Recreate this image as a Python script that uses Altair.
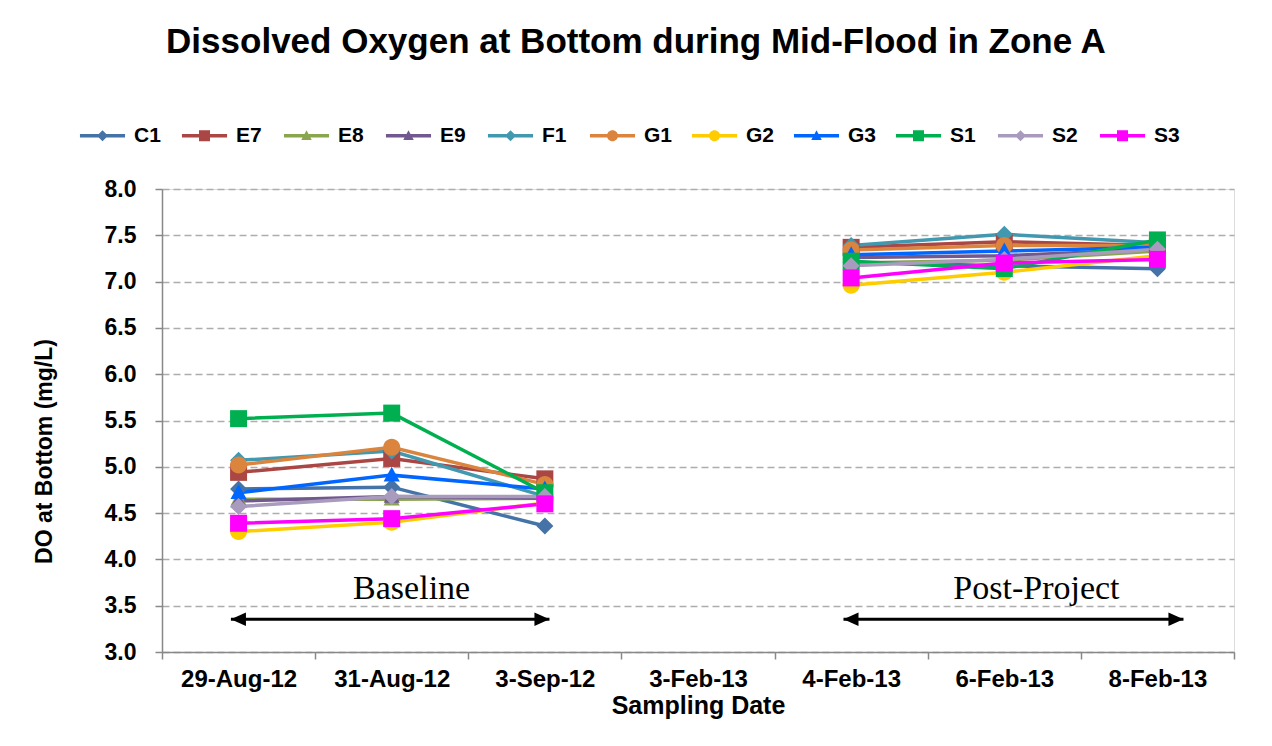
import altair as alt
import pandas as pd

# ---------------- data ----------------
dates = ["29-Aug-12", "31-Aug-12", "3-Sep-12", "3-Feb-13", "4-Feb-13", "6-Feb-13", "8-Feb-13"]
periods = ["Baseline", "Baseline", "Baseline", "Gap", "Post", "Post", "Post"]
series = ["C1", "E7", "E8", "E9", "F1", "G1", "G2", "G3", "S1", "S2", "S3"]
colors = ["#4572A7", "#AA4643", "#89A54E", "#71588F", "#4198AF", "#DB843D",
          "#FFCC00", "#0066FF", "#00B050", "#A99BBD", "#FF00FF"]
markers = ["diamond", "square", "triangle", "triangle", "diamond", "circle",
           "circle", "triangle", "square", "diamond", "square"]

C1 = [4.76, 4.78, 4.36, None, 7.21, 7.17, 7.14]
E7 = [4.94, 5.09, 4.87, None, 7.37, 7.43, 7.39]
E8 = [4.65, 4.65, 4.66, None, 7.20, 7.23, 7.33]
E9 = [4.63, 4.68, 4.66, None, 7.26, 7.28, 7.35]
F1 = [5.07, 5.17, 4.68, None, 7.39, 7.51, 7.42]
G1 = [5.02, 5.21, 4.81, None, 7.34, 7.39, 7.39]
G2 = [4.30, 4.40, 4.61, None, 6.96, 7.10, 7.28]
G3 = [4.72, 4.91, 4.76, None, 7.29, 7.33, 7.37]
S1 = [5.52, 5.58, 4.72, None, 7.22, 7.14, 7.45]
S2 = [4.57, 4.68, 4.68, None, 7.17, 7.24, 7.35]
S3 = [4.39, 4.44, 4.60, None, 7.04, 7.20, 7.24]
values = [C1, E7, E8, E9, F1, G1, G2, G3, S1, S2, S3]

y_ticks = [3.0, 3.5, 4.0, 4.5, 5.0, 5.5, 6.0, 6.5, 7.0, 7.5, 8.0]

# annotations (x in category-index units, y in mg/L)
ann_labels = ["Baseline", "Post-Project"]
ann_text_x = [1.13, 5.21]
ann_text_y = [3.577, 3.577]
ann_start = [-0.05, 3.95]
ann_end = [2.03, 6.17]
ann_y = [3.353, 3.353]

# ---------------- tables ----------------
rows = []
for s, vals in zip(series, values):
    for i, (d, p, v) in enumerate(zip(dates, periods, vals)):
        if v is not None:
            rows.append({"date": d, "idx": i, "series": s, "period": p, "value": v})
df = pd.DataFrame(rows)
leg_df = pd.DataFrame({"series": series})
ann_df = pd.DataFrame({"label": ann_labels, "tx": ann_text_x, "ty": ann_text_y,
                       "start": ann_start, "end": ann_end, "ay": ann_y})

# ---------------- shapes ----------------
MARK = {
    "diamond": "M0,-1L1,0L0,1L-1,0Z",
    "square": "M-1,-1H1V1H-1Z",
    "triangle": "M0,-1L0.95,0.75L-0.95,0.75Z",
    "circle": "M1,0A1,1 0 1,1 -1,0A1,1 0 1,1 1,0Z",
}
LINE = "M-4.1,-0.33H4.1V0.33H-4.1Z"
marker_paths = [MARK[m] for m in markers]
legend_paths = [LINE + MARK[m] for m in markers]
LEFT_HEAD = "M0,0L2,-0.9L2,0.9Z"
RIGHT_HEAD = "M0,0L-2,-0.9L-2,0.9Z"

FONT = "Liberation Sans"
GREY = "#888888"

yscale = alt.Scale(domain=[3, 8], nice=False, zero=False)
xscale = alt.Scale(type="band", domain=dates, paddingInner=0, paddingOuter=0)
cscale = alt.Scale(domain=series, range=colors)
ann_x = alt.Scale(domain=[-0.5, 6.5], nice=False, zero=False)

x_axis = alt.Axis(title="Sampling Date", labelAngle=0, tickBand="extent", tickSize=7,
                  labelFont=FONT, labelFontSize=24, labelFontWeight="bold", labelColor="black",
                  labelPadding=8, titleFont=FONT, titleFontSize=25, titleFontWeight="bold",
                  titleColor="black", titlePadding=2, domainColor=GREY, domainWidth=1.5,
                  tickColor=GREY, tickWidth=1.5, grid=False)
y_axis = alt.Axis(title="DO at Bottom (mg/L)", values=y_ticks, format=".1f", tickSize=7,
                  labelFont=FONT, labelFontSize=23, labelFontWeight="bold", labelColor="black",
                  labelPadding=19, titleFont=FONT, titleFontSize=23, titleFontWeight="bold",
                  titleColor="black", titlePadding=48, titleY=262,
                  domainColor=GREY, domainWidth=1.5,
                  tickColor=GREY, tickWidth=1.5, grid=True, gridColor="#ADADAD",
                  gridDash=[7, 4], gridWidth=1.5)

legend = alt.Legend(title=None, orient="none", legendX=-70, legendY=-64,
                    direction="horizontal", columns=11, gridAlign="all",
                    symbolSize=121, symbolOpacity=1, symbolStrokeWidth=0,
                    labelOffset=21, columnPadding=18, padding=0,
                    labelFont=FONT, labelFontSize=21, labelFontWeight="bold",
                    labelColor="black")

Y = lambda f: alt.Y(f, scale=yscale, axis=y_axis)

lines = alt.Chart(df).mark_line(strokeWidth=3.5).encode(
    x=alt.X("date:N", sort=dates, scale=xscale, axis=x_axis),
    y=Y("value:Q"),
    color=alt.Color("series:N", scale=cscale, legend=None),
    detail="period:N",
    order=alt.Order("idx:Q"),
)

points = alt.Chart(df).mark_point(filled=True, opacity=1, size=289, strokeWidth=0).encode(
    x=alt.X("date:N", sort=dates, scale=xscale, axis=None),
    y=Y("value:Q"),
    color=alt.Color("series:N", scale=cscale, legend=None),
    shape=alt.Shape("series:N", scale=alt.Scale(domain=series, range=marker_paths), legend=None),
)

leg = alt.Chart(leg_df).mark_point(filled=True, opacity=0).encode(
    color=alt.Color("series:N", scale=cscale, legend=legend),
    shape=alt.Shape("series:N", scale=alt.Scale(domain=series, range=legend_paths), legend=legend),
)

arrow = alt.Chart(ann_df).mark_rule(color="black", strokeWidth=3).encode(
    x=alt.X("start:Q", scale=ann_x, axis=None),
    x2="end:Q",
    y=Y("ay:Q"),
)
head_l = alt.Chart(ann_df).mark_point(filled=True, opacity=1, color="black", size=225,
                                      shape=LEFT_HEAD, strokeWidth=0).encode(
    x=alt.X("start:Q", scale=ann_x, axis=None),
    y=Y("ay:Q"),
)
head_r = alt.Chart(ann_df).mark_point(filled=True, opacity=1, color="black", size=225,
                                      shape=RIGHT_HEAD, strokeWidth=0).encode(
    x=alt.X("end:Q", scale=ann_x, axis=None),
    y=Y("ay:Q"),
)
ann_text = alt.Chart(ann_df).mark_text(font="Liberation Serif", fontSize=34, color="black",
                                       align="center", baseline="alphabetic").encode(
    x=alt.X("tx:Q", scale=ann_x, axis=None),
    y=Y("ty:Q"),
    text="label:N",
)

chart = alt.layer(lines, points, leg, arrow, head_l, head_r, ann_text).resolve_scale(
    x="independent", color="independent", shape="independent"
).properties(
    width=1072, height=463,
    padding={"left": 25, "top": 17, "right": 5, "bottom": 5},
    title=alt.Title("Dissolved Oxygen at Bottom during Mid-Flood in Zone A",
                    font=FONT, fontSize=35, fontWeight="bold", color="black",
                    anchor="middle", offset=65, dx=-62),
).configure_view(stroke=GREY, strokeWidth=1.5).configure(background="white")

chart.save("out.html", embed_options={"renderer": "svg", "actions": False})
